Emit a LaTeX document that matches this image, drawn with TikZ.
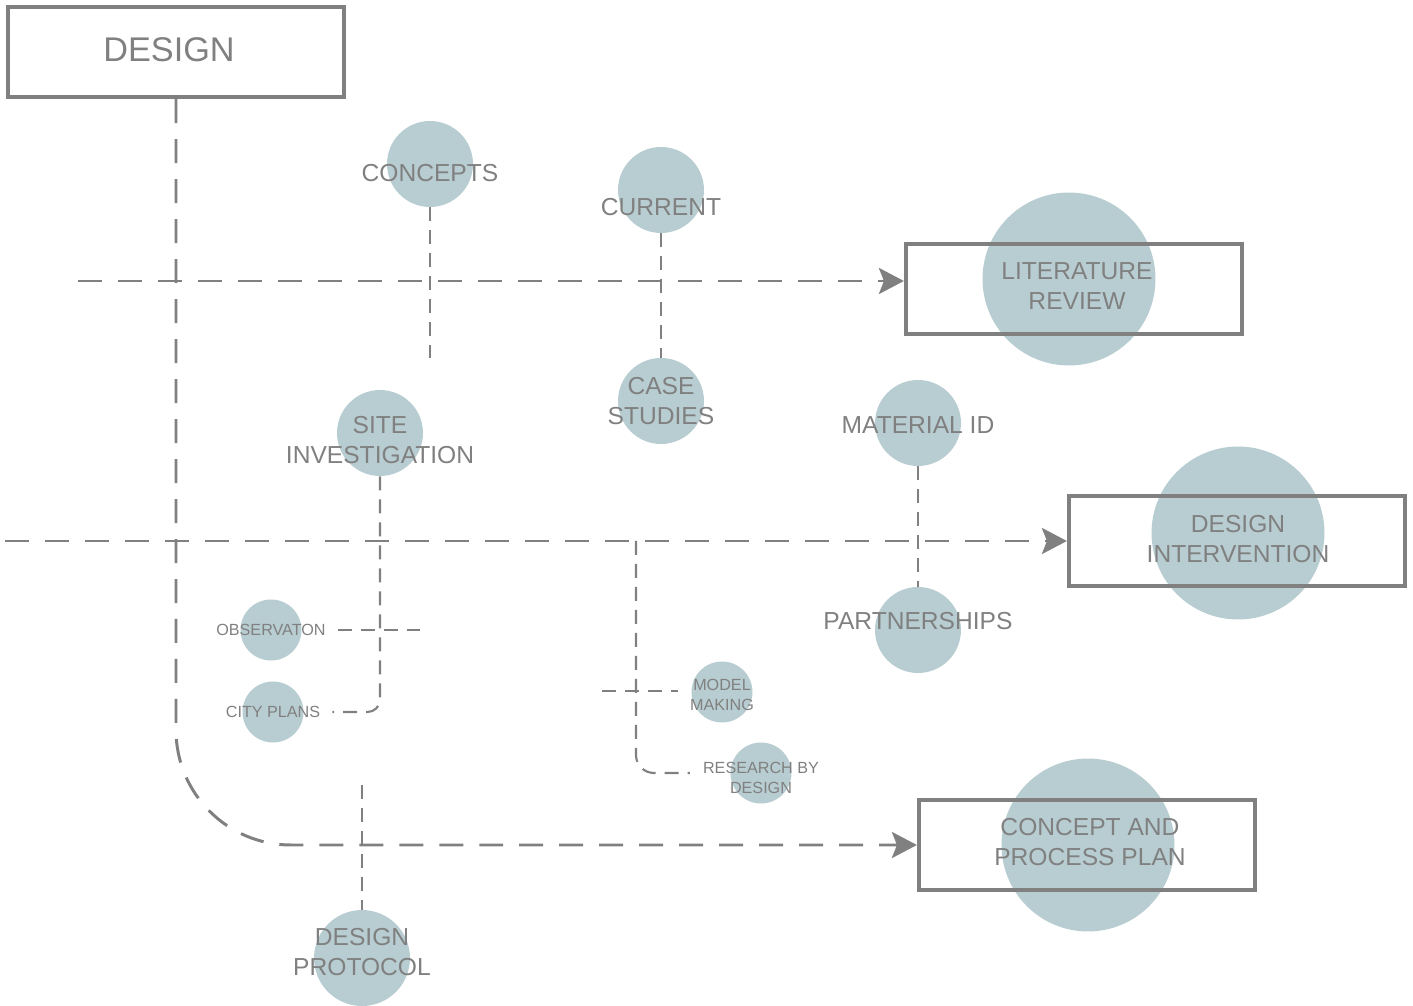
\documentclass[tikz,border=0pt]{standalone}
\usepackage{fontspec}
\setmainfont{Liberation Sans}
\usetikzlibrary{arrows.meta}

\definecolor{linegray}{HTML}{808080}
\definecolor{bubblefill}{HTML}{B8CDD1}

\begin{document}
\begin{tikzpicture}[x=0.02cm, y=-0.02cm,
    bubble/.style={circle, fill=bubblefill, inner sep=0pt, minimum size=1.72cm},
    small bubble/.style={bubble, minimum size=1.22cm},
    big bubble/.style={bubble, minimum size=3.46cm},
    stage box/.style={rectangle, draw=linegray, line width=2.4pt, minimum width=6.72cm, minimum height=1.8cm},
    main label/.style={text=linegray, align=center, font=\fontsize{14}{17}\selectfont, inner sep=1pt},
    small label/.style={main label, font=\fontsize{9.2}{11.3}\selectfont},
    main line/.style={draw=linegray, line width=1.7pt, dash pattern=on 0.48cm off 0.32cm},
    thin line/.style={draw=linegray, line width=1.2pt, dash pattern=on 0.28cm off 0.18cm},
    >={Stealth[length=0.5cm, width=0.52cm, inset=0.1cm]}]

      \useasboundingbox (0,0) rectangle (1413,1006);

      %% bubbles
      \node (Concepts) [bubble] at (430,164) {};
      \node (Current) [bubble] at (661,190) {};
      \node (Case) [bubble] at (661,401) {};
      \node (Site) [bubble] at (380,433) {};
      \node (Material) [bubble] at (918,423) {};
      \node (Partner) [bubble] at (918,630) {};
      \node (Observe) [small bubble] at (271,630) {};
      \node (City) [small bubble] at (273,712) {};
      \node (Model) [small bubble] at (722,692) {};
      \node (Research) [small bubble] at (761,773) {};
      \node (Protocol) [bubble, minimum size=1.92cm] at (362,958) {};

      \node (Literature) [big bubble] at (1069,279) {};
      \node (Intervention) [big bubble] at (1238,533) {};
      \node (Concept) [big bubble] at (1088,845) {};

      %% stage boxes
      \node (Design) [stage box] at (176,52) {};
      \node (LitBox) [stage box] at (1074,289) {};
      \node (DiBox) [stage box] at (1237,541) {};
      \node (CappBox) [stage box] at (1087,845) {};

      %% main lines
      \coordinate (LitStart) at (78,281);
      \coordinate (DiStart) at (5,541);
      \draw [main line, ->] (LitStart) -- (LitStart -| LitBox.west);
      \draw [main line, ->] (DiStart) -- (DiBox.west);
      \draw [main line, ->, rounded corners=2.3cm] (Design.south) |- (CappBox.west);

      %% labels
      \node (DesignText) [main label, font=\fontsize{19.5}{23}\selectfont] at (169,50) {DESIGN};
      \node (ConceptsText) [main label, node distance=0.18cm, below of=Concepts] {CONCEPTS};
      \node (CurrentText) [main label, node distance=0.34cm, below of=Current] {CURRENT};
      \node (CaseText) [main label] at (Case) {CASE\\STUDIES};
      \node (SiteText) [main label, node distance=0.14cm, below of=Site] {SITE\\INVESTIGATION};
      \node (MaterialText) [main label, node distance=0.04cm, below of=Material] {MATERIAL ID};
      \node (PartnerText) [main label, node distance=0.18cm, above of=Partner] {PARTNERSHIPS};
      \node (ObserveText) [small label] at (Observe) {OBSERVATON};
      \node (CityText) [small label] at (City) {CITY PLANS};
      \node (ModelText) [small label, node distance=0.06cm, below of=Model] {MODEL\\MAKING};
      \node (ResearchText) [small label, node distance=0.1cm, below of=Research] {RESEARCH BY\\DESIGN};
      \node (ProtocolText) [main label, node distance=0.12cm, above of=Protocol] {DESIGN\\PROTOCOL};
      \node (LiteratureText) [main label] at (1077,286) {LITERATURE\\REVIEW};
      \node (InterventionText) [main label, node distance=0.12cm, below of=Intervention] {DESIGN\\INTERVENTION};
      \node (ConceptText) [main label] at (1090,842) {CONCEPT AND\\PROCESS PLAN};

      %% thin links
      \coordinate (ConceptsEnd) at (430,358);
      \coordinate (ObserveEnd) at (420,630);
      \coordinate (ModelStart) at (602,691);
      \coordinate (ResearchStart) at (636,541);
      \coordinate (ProtocolStart) at (362,785);

      \draw [thin line] (Concepts.south) -- (ConceptsEnd);
      \draw [thin line] (Current.south) -- (Case.north);
      \draw [thin line] (Material.south) -- (Partner.north);
      \draw [thin line, shorten <=0.2cm] (ObserveText.east) -- (ObserveText.east -| ObserveEnd);
      \draw [thin line, rounded corners=0.25cm, shorten >=0.2cm] (Site.south) |- (CityText.east);
      \draw [thin line, shorten >=0.2cm] (ModelStart) -- (ModelStart -| ModelText.west);
      \draw [thin line, rounded corners=0.36cm, shorten >=0.22cm] (ResearchStart) |- ([yshift=0.1cm]ResearchText.west);
      \draw [thin line] (ProtocolStart) -- (Protocol.north);

\end{tikzpicture}
\end{document}
